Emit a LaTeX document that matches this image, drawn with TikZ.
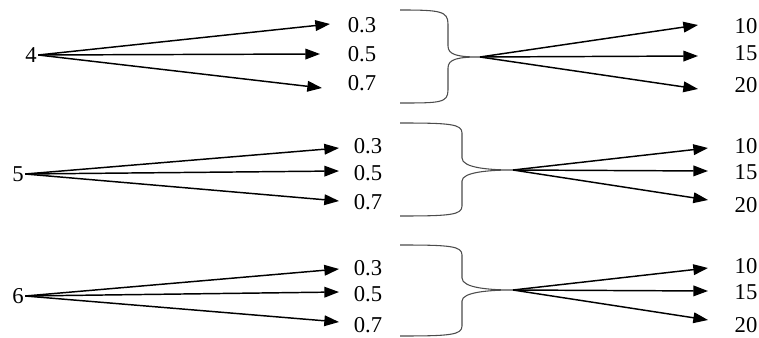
\documentclass[tikz,border=0pt]{standalone}
\usepackage{fontspec}
\setmainfont{Liberation Serif}
\usetikzlibrary{arrows.meta}
\begin{document}
\begin{tikzpicture}[x=0.75pt,y=-0.75pt,
  lbl/.style={font=\fontsize{17}{19}\selectfont, inner sep=1pt},
  arr/.style={line width=1.1pt,-{Triangle[length=11pt,width=8pt]}},
  brace/.style={draw=black!70, line width=0.8pt}]
\useasboundingbox (0,0) rectangle (759,338);
% block 1
\node[lbl] (s1) at (31,55) {4};
\node[lbl] (a1) at (362,25) {0.3};
\node[lbl] (b1) at (362,54) {0.5};
\node[lbl] (c1) at (362,83) {0.7};
\coordinate (ta1) at (330,24);
\coordinate (tb1) at (320,54);
\coordinate (tc1) at (322,88);
\draw[arr] (s1.east) -- (ta1);
\draw[arr] (s1.east) -- (tb1);
\draw[arr] (s1.east) -- (tc1);
\coordinate (k1) at (480,57);
\draw[brace] (400,10) .. controls (440,10) and (448,11) .. (448,24) -- (448,46) .. controls (448,55) and (458,57) .. (k1)
  .. controls (458,57) and (448,59) .. (448,68) -- (448,90) .. controls (448,103) and (440,103) .. (400,103);
\node[lbl] (x1) at (746,26) {10};
\node[lbl] (y1) at (746,53) {15};
\node[lbl] (z1) at (746,85) {20};
\coordinate (tx1) at (698,25);
\coordinate (ty1) at (698,56);
\coordinate (tz1) at (698,89);
\draw[arr] (k1) -- (tx1);
\draw[arr] (k1) -- (ty1);
\draw[arr] (k1) -- (tz1);
% block 2
\node[lbl] (s2) at (18,174) {5};
\node[lbl] (a2) at (368,146) {0.3};
\node[lbl] (b2) at (368,173) {0.5};
\node[lbl] (c2) at (368,202) {0.7};
\coordinate (ta2) at (339,148);
\coordinate (tb2) at (339,171);
\coordinate (tc2) at (339,201);
\draw[arr] (s2.east) -- (ta2);
\draw[arr] (s2.east) -- (tb2);
\draw[arr] (s2.east) -- (tc2);
\coordinate (k2) at (513,170);
\draw[brace] (400,123) .. controls (450,123) and (462,124) .. (462,133) -- (462,158) .. controls (462,168) and (490,170) .. (k2)
  .. controls (490,170) and (462,172) .. (462,181) -- (462,206) .. controls (462,215) and (450,216) .. (400,216);
\node[lbl] (x2) at (746,146) {10};
\node[lbl] (y2) at (746,172) {15};
\node[lbl] (z2) at (746,205) {20};
\coordinate (tx2) at (708,148);
\coordinate (ty2) at (708,171);
\coordinate (tz2) at (708,200);
\draw[arr] (k2) -- (tx2);
\draw[arr] (k2) -- (ty2);
\draw[arr] (k2) -- (tz2);
% block 3
\node[lbl] (s3) at (18,296) {6};
\node[lbl] (a3) at (368,268) {0.3};
\node[lbl] (b3) at (368,294) {0.5};
\node[lbl] (c3) at (368,325) {0.7};
\coordinate (ta3) at (339,269);
\coordinate (tb3) at (339,292);
\coordinate (tc3) at (339,322);
\draw[arr] (s3.east) -- (ta3);
\draw[arr] (s3.east) -- (tb3);
\draw[arr] (s3.east) -- (tc3);
\coordinate (k3) at (513,290);
\draw[brace] (400,245) .. controls (450,245) and (462,246) .. (462,255) -- (462,278) .. controls (462,288) and (490,290) .. (k3)
  .. controls (490,290) and (462,292) .. (462,301) -- (462,326) .. controls (462,335) and (450,336) .. (400,336);
\node[lbl] (x3) at (746,266) {10};
\node[lbl] (y3) at (746,292) {15};
\node[lbl] (z3) at (746,325) {20};
\coordinate (tx3) at (708,268);
\coordinate (ty3) at (708,291);
\coordinate (tz3) at (708,320);
\draw[arr] (k3) -- (tx3);
\draw[arr] (k3) -- (ty3);
\draw[arr] (k3) -- (tz3);
\end{tikzpicture}
\end{document}
